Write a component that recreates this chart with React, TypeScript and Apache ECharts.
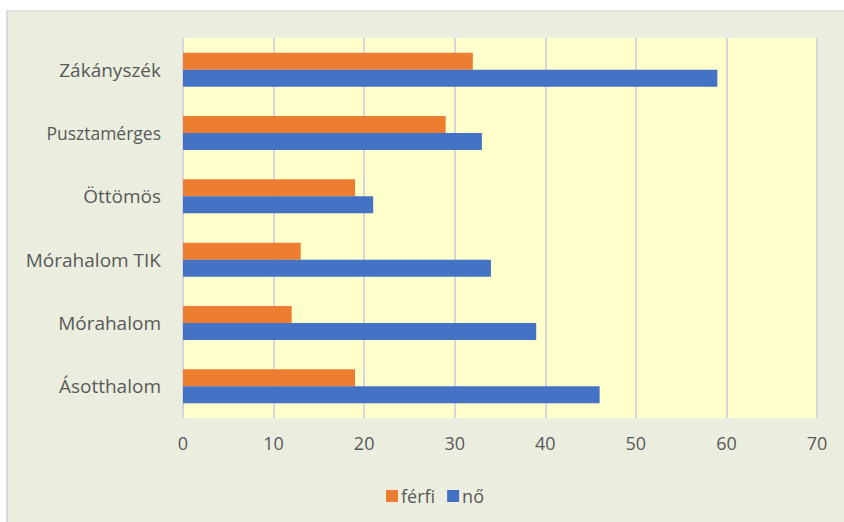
import React, { useEffect, useRef } from "react";
import * as echarts from "echarts";

const categories = ["Zákányszék", "Pusztamérges", "Öttömös", "Mórahalom TIK", "Mórahalom", "Ásotthalom"];
const ferfi = [32, 29, 19, 13, 12, 19];
const no = [59, 33, 21, 34, 39, 46];
const xTicks = { min: 0, max: 70, interval: 10 };

const FONT = "'Open Sans', 'Noto Sans', sans-serif";
const TEXT = "#595959";

export default function App() {
  const ref = useRef<HTMLDivElement>(null);
  useEffect(() => {
    if (!ref.current) return;
    const chart = echarts.init(ref.current, null, { renderer: "svg" });
    chart.setOption({
      animation: false,
      backgroundColor: "transparent",
      textStyle: { fontFamily: FONT },
      grid: {
        left: 183,
        top: 38,
        width: 634,
        height: 380,
        show: true,
        backgroundColor: "#FFFFCC",
        borderWidth: 0,
      },
      legend: {
        data: ["férfi", "nő"],
        left: 381,
        top: 482,
        icon: "rect",
        itemWidth: 12,
        itemHeight: 12,
        itemGap: 12,
        itemStyle: { borderWidth: 0 },
        textStyle: { color: TEXT, fontSize: 18, fontFamily: FONT, padding: [0, 0, 0, -2] },
      },
      xAxis: {
        type: "value",
        min: xTicks.min,
        max: xTicks.max,
        interval: xTicks.interval,
        axisLine: { show: false },
        axisTick: { show: false },
        splitLine: { show: true, lineStyle: { color: "#D6D6DA", width: 2 } },
        axisLabel: { color: TEXT, fontSize: 18, margin: 16, fontFamily: FONT },
      },
      yAxis: {
        type: "category",
        inverse: true,
        data: categories.map((c) =>
          c === "Pusztamérges" ? { value: c, textStyle: { fontSize: 17.5 } } : c
        ),
        axisLine: { show: false },
        axisTick: { show: false },
        splitLine: { show: false },
        axisLabel: { color: TEXT, fontSize: 19, margin: 22, fontFamily: FONT },
      },
      series: [
        {
          name: "férfi",
          type: "bar",
          data: ferfi,
          barWidth: 17,
          barGap: "0%",
          itemStyle: { color: "#ED7D31" },
        },
        {
          name: "nő",
          type: "bar",
          data: no,
          barWidth: 17,
          barGap: "0%",
          itemStyle: { color: "#4472C4" },
        },
      ],
    });
    return () => chart.dispose();
  }, []);

  return (
    <div style={{ position: "fixed", left: 0, top: 0, width: 844, height: 522, background: "#ffffff" }}>
      <div
        style={{
          position: "absolute",
          left: 6,
          top: 10,
          right: 0,
          bottom: 0,
          background: "#EBEEDF",
          borderLeft: "2px solid #D9D9D9",
          borderTop: "2px solid #E0E0E0",
        }}
      />
      <div ref={ref} style={{ position: "absolute", left: 0, top: 0, width: 844, height: 522 }} />
    </div>
  );
}
